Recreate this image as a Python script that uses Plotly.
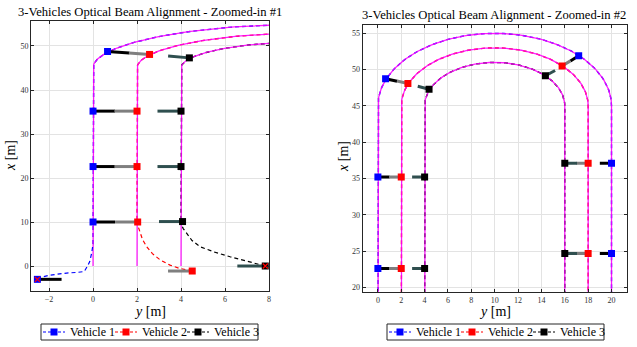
import numpy as np
import plotly.graph_objects as go

W, H = 637, 347
FONT = "Liberation Serif"

# ---------------- data ----------------
lane_offsets = [0, 2, 4]          # lateral lane positions y [m]
straight_end = 45                 # x [m] where the U-turn begins
turn_center = 10                  # y [m] of the U-turn centre

vehicle_names = ["Vehicle 1", "Vehicle 2", "Vehicle 3"]
vehicle_colors = ["#0000FF", "#FF0000", "#000000"]
beam_colors = ["#000000", "#7F7F7F", "#2F4F4F"]

# approach (merging) paths: (y, x)
v1_app_y = [-2.53, -2.3, -2.0, -1.6, -1.2, -0.7, -0.4, -0.25, -0.15, -0.06, 0.0]
v1_app_x = [-3.03, -2.5, -2.1, -1.8, -1.6, -1.45, -1.25, 0.0, 1.0, 3.0, 5.0]
v2_app_y = [4.51, 4.26, 3.9, 3.5, 3.05, 2.7, 2.44, 2.25, 2.14, 2.05, 2.0]
v2_app_x = [-1.14, -0.9, -0.5, 0.2, 1.4, 2.8, 4.4, 6.0, 7.4, 9.0, 10.5]
v3_app_y = [7.83, 7.5, 6.98, 6.23, 5.5, 4.86, 4.5, 4.26, 4.1, 4.03, 4.0]
v3_app_x = [0.0, 0.45, 1.0, 2.1, 3.2, 4.4, 5.8, 7.4, 8.5, 9.3, 10.5]

# snapshot positions of the vehicles (y, x)
snap_v1_y = [-2.53, 0.0, 0.0, 0.0, 0.66, 17.19, 20.0, 20.0]
snap_v1_x = [-3.03, 10.0, 22.6, 35.2, 48.75, 51.9, 37.1, 24.65]
snap_v2_y = [4.51, 2.03, 2.0, 2.0, 2.57, 15.77, 18.0, 18.0]
snap_v2_x = [-1.14, 10.0, 22.6, 35.2, 48.08, 50.5, 37.1, 24.65]
snap_v3_y = [7.83, 4.07, 4.0, 4.0, 4.38, 14.34, 16.0, 16.0]
snap_v3_x = [0.0, 10.1, 22.6, 35.2, 47.3, 49.15, 37.1, 24.65]

# optical beam direction (deg, in the y-x plane) and length [m]
beam1_ang = [0, 0, 0, 0, -20, -135, 180, 180]
beam2_ang = [180, 180, 180, 180, 160, 45, 180, 180]
beam3_ang = [180, 180, 180, 180, 157, 41, 0, 0]
beam1_len = [1.1, 1.0, 1.0, 1.0, 1.05, 1.0, 1.0, 1.0]
beam2_len = [1.1, 1.03, 1.03, 1.03, 1.0, 1.0, 1.0, 1.0]
beam3_len = [1.27, 1.07, 1.07, 1.07, 1.05, 1.1, 1.05, 1.05]

left_xticks = [-2, 0, 2, 4, 6, 8]
left_yticks = [0, 10, 20, 30, 40, 50]
right_xticks = [0, 2, 4, 6, 8, 10, 12, 14, 16, 18, 20]
right_yticks = [20, 25, 30, 35, 40, 45, 50, 55]

titles = ["3-Vehicles Optical Beam Alignment - Zoomed-in #1",
          "3-Vehicles Optical Beam Alignment - Zoomed-in #2"]

# ---------------- geometry helpers ----------------
def lane_path(off, x_from=0.0):
    r = turn_center - off
    phi = np.linspace(np.pi, 0, 121)
    ys = [off, off] + list(turn_center + r * np.cos(phi)) + [2 * turn_center - off, 2 * turn_center - off]
    xs = [x_from, straight_end] + list(straight_end + r * np.sin(phi)) + [straight_end, 0.0]
    return ys, xs

apps = [(v1_app_y, v1_app_x), (v2_app_y, v2_app_x), (v3_app_y, v3_app_x)]
snaps = [(snap_v1_y, snap_v1_x), (snap_v2_y, snap_v2_x), (snap_v3_y, snap_v3_x)]
beams = [(beam1_ang, beam1_len), (beam2_ang, beam2_len), (beam3_ang, beam3_len)]

fig = go.Figure()

panels = [("x", "y"), ("x2", "y2")]
for xa, ya in panels:
    # vehicle paths (lane-following portion, underneath)
    for k in range(3):
        ay, ax = apps[k]
        py_, px_ = lane_path(lane_offsets[k], ax[-1])
        fig.add_trace(go.Scatter(x=py_, y=px_, xaxis=xa, yaxis=ya, mode="lines",
                                 line=dict(color=vehicle_colors[k], width=1.4, dash="4px,3px"),
                                 showlegend=False, hoverinfo="skip"))
    # lanes (magenta)
    for k in range(3):
        ly, lx = lane_path(lane_offsets[k])
        fig.add_trace(go.Scatter(x=ly, y=lx, xaxis=xa, yaxis=ya, mode="lines",
                                 line=dict(color="#FF00FF", width=1.3), opacity=0.88,
                                 showlegend=False, hoverinfo="skip"))
    # approach paths
    for k in range(3):
        ay, ax = apps[k]
        fig.add_trace(go.Scatter(x=ay, y=ax, xaxis=xa, yaxis=ya, mode="lines",
                                 line=dict(color=vehicle_colors[k], width=1.2, dash="4px,3px"),
                                 showlegend=False, hoverinfo="skip"))
    # beams
    for k in range(3):
        sy, sx = snaps[k]
        ang, ln = beams[k]
        by, bx = [], []
        for i in range(len(sy)):
            a = np.deg2rad(ang[i])
            by += [sy[i], sy[i] + ln[i] * np.cos(a), None]
            bx += [sx[i], sx[i] + ln[i] * np.sin(a), None]
        fig.add_trace(go.Scatter(x=by, y=bx, xaxis=xa, yaxis=ya, mode="lines",
                                 line=dict(color=beam_colors[k], width=3),
                                 showlegend=False, hoverinfo="skip"))
    # vehicle squares
    for k in range(3):
        sy, sx = snaps[k]
        fig.add_trace(go.Scatter(x=sy, y=sx, xaxis=xa, yaxis=ya, mode="markers",
                                 name=vehicle_names[k],
                                 marker=dict(symbol="square", size=7, color=vehicle_colors[k],
                                             line=dict(width=0)),
                                 showlegend=False, hoverinfo="skip"))
    # start markers
    fig.add_trace(go.Scatter(x=[s[0][0] for s in snaps], y=[s[1][0] for s in snaps],
                             xaxis=xa, yaxis=ya, mode="markers",
                             marker=dict(symbol="x-thin", size=5, color="#FF0000",
                                         line=dict(width=1.3, color="#FF0000")),
                             showlegend=False, hoverinfo="skip"))

axis_common = dict(showgrid=True, gridcolor="#E3E3E3", gridwidth=1, zeroline=False,
                   ticks="inside", ticklen=3, tickcolor="#262626", showline=True,
                   linecolor="#262626", linewidth=1, mirror="ticks",
                   tickfont=dict(family=FONT, size=8, color="#333333"), automargin=False)

L_dom_x = [31 / W, 269 / W]
L_dom_y = [(H - 291) / H, (H - 21) / H]
R_dom_x = [362.7 / W, 626.7 / W]
R_dom_y = [(H - 292) / H, (H - 25) / H]

fig.update_layout(
    width=W, height=H, margin=dict(l=0, r=0, t=0, b=0),
    paper_bgcolor="white", plot_bgcolor="white",
    font=dict(family=FONT, color="#000000"),
    xaxis=dict(domain=L_dom_x, anchor="y", range=[-2.82, 8.0], tickvals=left_xticks, **axis_common),
    yaxis=dict(domain=L_dom_y, anchor="x", range=[-5.68, 55.68], tickvals=left_yticks, **axis_common),
    xaxis2=dict(domain=R_dom_x, anchor="y2", range=[-1.3, 21.3], tickvals=right_xticks, **axis_common),
    yaxis2=dict(domain=R_dom_y, anchor="x2", range=[19.35, 56.15], tickvals=right_yticks, **axis_common),
    showlegend=False,
)

def px(xp):
    return xp / W

def py(yp):
    return (H - yp) / H

# titles and axis labels
ann = [
    dict(text=titles[0], x=150, y=12, size=12.6),
    dict(text=titles[1], x=494, y=15, size=12.6),
    dict(text="<i>y</i> [m]", x=150, y=311, size=14),
    dict(text="<i>y</i> [m]", x=495, y=311, size=14),
    dict(text="<i>x</i> [m]", x=10, y=156, size=14, rot=-90),
    dict(text="<i>x</i> [m]", x=343, y=157, size=14, rot=-90),
]
for a in ann:
    fig.add_annotation(text=a["text"], x=px(a["x"]), y=py(a["y"]), xref="paper", yref="paper",
                       xanchor="center", yanchor="middle", showarrow=False,
                       textangle=a.get("rot", 0),
                       font=dict(family=FONT, size=a["size"], color="#000000"))

# legends (one under each panel), drawn as boxed rows
def draw_legend(cx, cy):
    bw, bh = 217, 16
    x0 = cx - bw / 2
    fig.add_shape(type="rect", xref="paper", yref="paper",
                  x0=px(x0), x1=px(x0 + bw), y0=py(cy + bh / 2), y1=py(cy - bh / 2),
                  line=dict(color="#262626", width=1), fillcolor="white", layer="above")
    for k in range(3):
        ex = x0 + 2 + 72 * k
        fig.add_shape(type="line", xref="paper", yref="paper",
                      x0=px(ex), x1=px(ex + 22), y0=py(cy), y1=py(cy),
                      line=dict(color=vehicle_colors[k], width=1.2, dash="3px,2px"), layer="above")
        fig.add_shape(type="rect", xref="paper", yref="paper",
                      x0=px(ex + 7.5), x1=px(ex + 14.5), y0=py(cy + 3.5), y1=py(cy - 3.5),
                      line=dict(width=0), fillcolor=vehicle_colors[k], layer="above")
        fig.add_annotation(text=vehicle_names[k], x=px(ex + 25), y=py(cy), xref="paper", yref="paper",
                           xanchor="left", yanchor="middle", showarrow=False,
                           font=dict(family=FONT, size=12, color="#000000"))

draw_legend(149.5, 332)
draw_legend(495.5, 332)

fig.write_html("out.html", config={"displayModeBar": False},
               post_script="document.body.style.margin='0px';")
